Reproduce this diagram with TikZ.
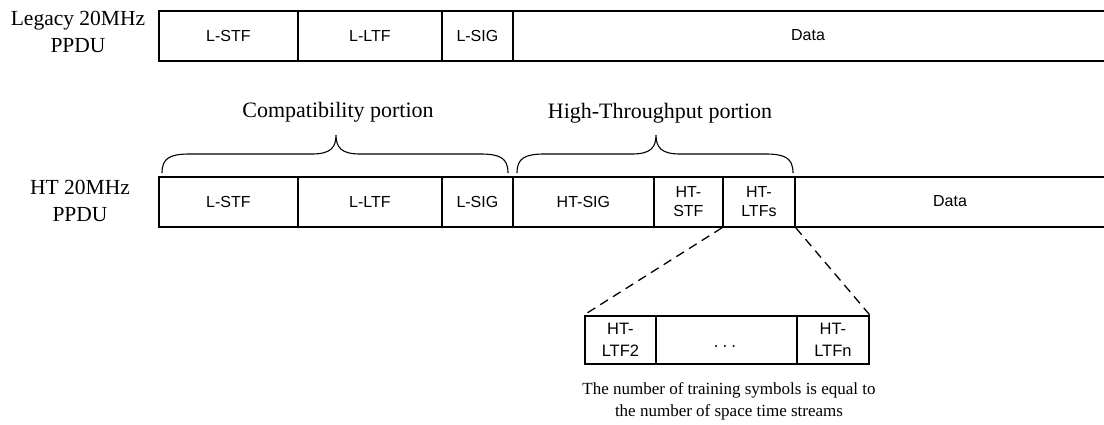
\documentclass[tikz,border=0pt]{standalone}
\usepackage{fontspec}
\setmainfont{Liberation Serif}
\newfontfamily\arialf{Liberation Sans}
\begin{document}
\begin{tikzpicture}[x=1pt,y=-1pt,
  fld/.style={draw, line width=1.8pt, inner sep=0pt, anchor=north west, align=center,
    font=\arialf\fontsize{16}{19}\selectfont},
  row/.style={minimum height=50pt},
  exp/.style={minimum height=48pt, font=\arialf\fontsize{16.5}{22}\selectfont},
  lbl/.style={align=center, inner sep=0pt, font=\fontsize{21.5}{27}\selectfont},
  portion/.style={inner sep=0pt, font=\fontsize{22}{26}\selectfont},
  brace/.style={line width=1.1pt},
  zoomline/.style={line width=1.3pt, dash pattern=on 9pt off 6pt}]
\useasboundingbox (0,0) rectangle (1104,425);

% Legacy row
\node[lbl] (leglbl) at (78,32) {Legacy 20MHz\\PPDU};
\node[fld,row,minimum width=139pt] (lstf1) at (158,10) {L-STF};
\node[fld,row,minimum width=144pt] (lltf1) at (297,10) {L-LTF};
\node[fld,row,minimum width=71pt]  (lsig1) at (441,10) {L-SIG};
\node[fld,row,minimum width=600pt] (data1) at (512,10) {};
\node[font=\arialf\fontsize{16}{19}\selectfont] (data1t) at (808,35) {Data};

% Portion labels and braces
\node[portion] (compat) at (338,112) {Compatibility portion};
\node[portion] (htp) at (660,113) {High-Throughput portion};
\coordinate (cb1) at (162,173);
\coordinate (cb2) at (508,173);
\coordinate (hb1) at (517,173);
\coordinate (hb2) at (793,173);
\draw[brace] (cb1) .. controls (162,158) and (170,154) .. (190,154) -- (312,154)
  .. controls (330,154) and (336,148) .. (336,135)
  .. controls (336,148) and (342,154) .. (360,154) -- (480,154)
  .. controls (500,154) and (508,158) .. (cb2);
\draw[brace] (hb1) .. controls (517,158) and (525,154) .. (545,154) -- (632,154)
  .. controls (650,154) and (656,148) .. (656,135)
  .. controls (656,148) and (662,154) .. (680,154) -- (765,154)
  .. controls (785,154) and (793,158) .. (hb2);

% HT row
\node[lbl] (htlbl) at (80,201) {HT 20MHz\\PPDU};
\node[fld,row,minimum width=139pt] (lstf2) at (158,176) {L-STF};
\node[fld,row,minimum width=144pt] (lltf2) at (297,176) {L-LTF};
\node[fld,row,minimum width=71pt]  (lsig2) at (441,176) {L-SIG};
\node[fld,row,minimum width=141pt] (htsig) at (512,176) {HT-SIG};
\node[fld,row,minimum width=69pt]  (htstf) at (653,176) {HT-\\STF};
\node[fld,row,minimum width=72pt]  (htltf) at (722,176) {HT-\\LTFs};
\node[fld,row,minimum width=320pt] (data2) at (794,176) {};
\node[font=\arialf\fontsize{16}{19}\selectfont] (data2t) at (950,201) {Data};

% Expansion
\node[fld,exp,minimum width=71pt]  (ltf2) at (584,315) {HT-\\LTF2};
\node[fld,exp,minimum width=141pt] (mid) at (655,315) {};
\node[font=\arialf\fontsize{17}{22}\selectfont, inner sep=0pt] (dots) at (725,347) {.\hspace{4pt}.\hspace{4pt}.};
\node[fld,exp,minimum width=72pt]  (ltfn) at (796,315) {HT-\\LTFn};

\draw[zoomline] (htltf.south west) -- (ltf2.north west);
\draw[zoomline] (htltf.south east) -- (ltfn.north east);

\node[align=center, inner sep=0pt, font=\fontsize{17}{22}\selectfont] (note) at (729,401)
  {The number of training symbols is equal to\\the number of space time streams};
\end{tikzpicture}
\end{document}
